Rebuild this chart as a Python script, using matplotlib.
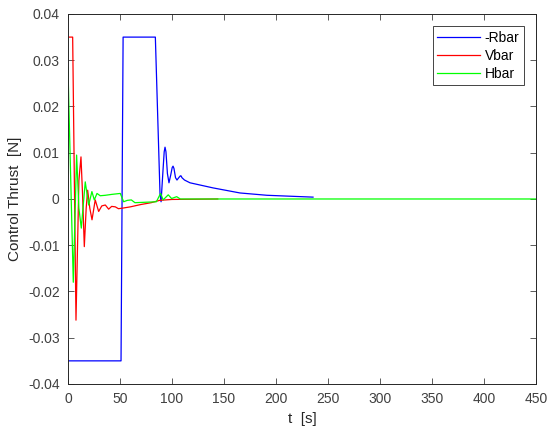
import numpy as np
import matplotlib.pyplot as plt

# values
t_r = [0, 51, 53, 84, 88.5, 89.5, 91.3, 92.5, 93.3, 94.2, 95.6, 97.1, 98.8, 100.2, 101, 101.9, 103.4,
       104.8, 106.5, 108, 108.7, 109.6, 112, 117.3, 139.4, 165.4, 191.3, 235.6]
r_bar = [-0.035, -0.035, 0.035, 0.035, 0.001, -0.0006, 0.006, 0.0102, 0.0112, 0.0102, 0.0055, 0.0035,
         0.0052, 0.0068, 0.0071, 0.0066, 0.0046, 0.0041, 0.0046, 0.005, 0.005, 0.0046, 0.0041,
         0.0035, 0.0024, 0.0013, 0.0008, 0.0004]

t_v = [0, 4.5, 7.7, 10.5, 12.5, 14, 15.7, 17.5, 18.9, 21, 23.1, 26.2, 29.5, 32.5, 35.9, 39.1, 42,
       45.5, 48.5, 51.9, 60, 70, 80, 88, 100, 144]
v_bar = [0.035, 0.035, -0.0262, 0.004, 0.0091, 0.001, -0.0103, -0.002, 0.0019, -0.002, -0.0045,
         -0.0002, -0.0027, -0.0015, -0.0013, -0.0022, -0.0016, -0.0017, -0.0021, -0.002, -0.0017,
         -0.0012, -0.0008, -0.0003, -0.0001, 0.0]

t_h = [0, 1, 5.1, 8.3, 10.5, 12.8, 16.6, 19.9, 23, 25.3, 27.9, 31, 35.9, 42.3, 50.3, 53.5, 57,
       60.9, 64.4, 75, 85, 89, 91.5, 96.4, 99.6, 104.5, 108, 450]
h_bar = [0.0285, 0.019, -0.018, 0.0095, -0.002, -0.0063, 0.0037, -0.0013, 0.0016, -0.0002, 0.0012,
         0.0007, 0.0008, 0.001, 0.0012, -0.0006, -0.0003, -0.0002, -0.0008, -0.0007, -0.0006, 0.0012,
         -0.0002, 0.0009, 0.0001, 0.0005, 0.0, 0.0]

plt.rcParams['font.family'] = ['Liberation Sans', 'DejaVu Sans']
plt.rcParams['font.size'] = 10

fig = plt.figure(figsize=(5.5, 4.33), dpi=100)
ax = fig.add_axes([0.1236, 0.1132, 0.851, 0.8545])

ax.plot(t_r, r_bar, color='#0000ff', lw=0.9, label='-Rbar')
ax.plot(t_v, v_bar, color='#ff0000', lw=0.9, label='Vbar')
ax.plot(t_h, h_bar, color='#00ff00', lw=0.9, label='Hbar')

ax.set_xlim(0, 450)
ax.set_ylim(-0.04, 0.04)
ax.set_xticks(np.arange(0, 451, 50))
ax.set_yticks(np.arange(-0.04, 0.041, 0.01))
ax.set_yticklabels(['-0.04', '-0.03', '-0.02', '-0.01', '0', '0.01', '0.02', '0.03', '0.04'])
ax.tick_params(direction='in', top=True, right=True, length=4, width=0.6,
               colors='#404040', labelsize=10, pad=6)
for s in ax.spines.values():
    s.set_color('#262626')
    s.set_linewidth(0.7)

ax.set_xlabel('t  [s]', fontsize=11, color='#262626')
ax.set_ylabel('Control Thrust  [N]', fontsize=11, color='#262626')

leg = ax.legend(loc='upper right', handlelength=3.1, fancybox=False, framealpha=1,
                edgecolor='#262626', fontsize=10, borderaxespad=0.9, labelspacing=0.3,
                handletextpad=0.3, borderpad=0.3)
leg.get_frame().set_linewidth(0.6)

fig.savefig('out.png', dpi=100)
